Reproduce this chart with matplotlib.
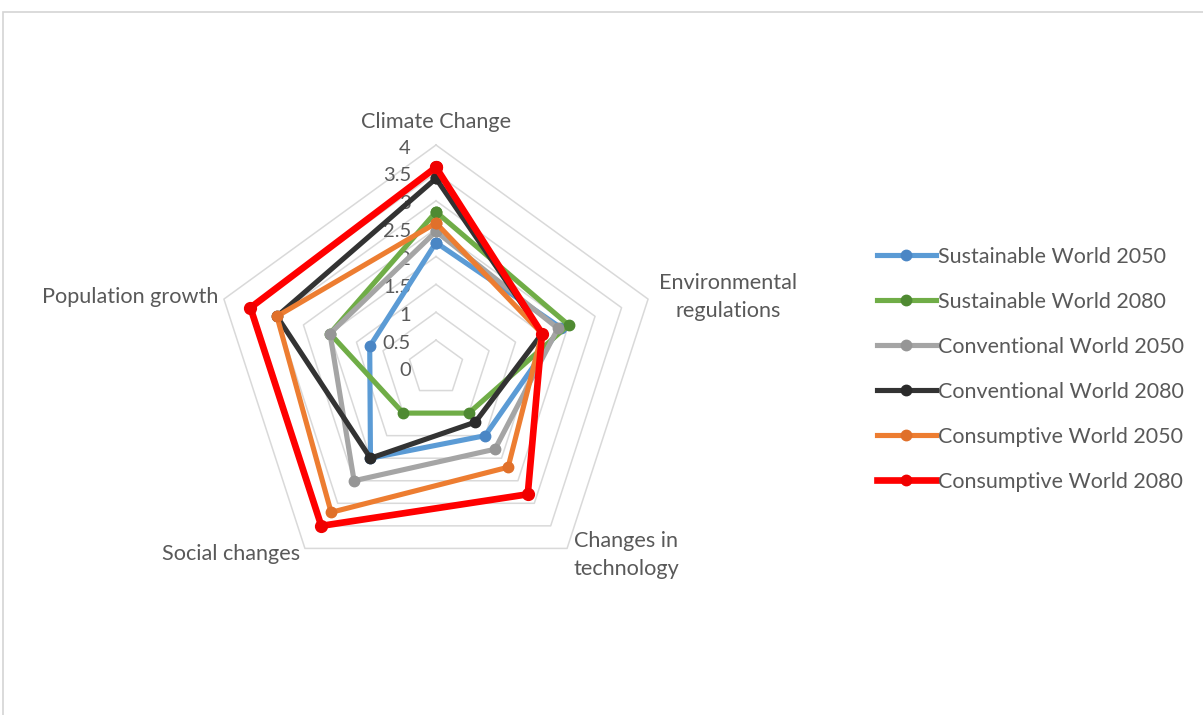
import numpy as np
import matplotlib
matplotlib.use("Agg")
import matplotlib.pyplot as plt
from matplotlib.patches import Rectangle

plt.rcParams['font.family'] = ['Lato', 'DejaVu Sans']

categories = ["Climate Change", "Environmental\nregulations", "Changes in\ntechnology",
              "Social changes", "Population growth"]

sustainable_2050 = [2.25, 2.35, 1.5, 2.0, 1.25]
sustainable_2080 = [2.8, 2.5, 1.0, 1.0, 2.0]
conventional_2050 = [2.45, 2.3, 1.8, 2.5, 2.0]
conventional_2080 = [3.4, 2.0, 1.2, 2.0, 3.0]
consumptive_2050 = [2.6, 2.0, 2.2, 3.2, 3.0]
consumptive_2080 = [3.6, 2.0, 2.8, 3.5, 3.5]

series_names = ["Sustainable World 2050", "Sustainable World 2080",
                "Conventional World 2050", "Conventional World 2080",
                "Consumptive World 2050", "Consumptive World 2080"]
series_values = [sustainable_2050, sustainable_2080, conventional_2050,
                 conventional_2080, consumptive_2050, consumptive_2080]

tick_values = [0, 0.5, 1, 1.5, 2, 2.5, 3, 3.5, 4]
tick_labels = ["0", "0.5", "1", "1.5", "2", "2.5", "3", "3.5", "4"]

line_colors = ["#5B9BD5", "#70AD47", "#A5A5A5", "#333333", "#ED7D31", "#FF0000"]
marker_colors = ["#4A86C5", "#4F8A32", "#969696", "#2A2A2A", "#E0702A", "#F00000"]
line_widths = [3.7, 3.7, 3.7, 3.7, 3.7, 4.8]
marker_sizes = [7.5, 7.5, 7.5, 7.5, 7.5, 8.5]

TEXT = "#595959"
W, H = 1203, 715
fig = plt.figure(figsize=(W / 100, H / 100), dpi=100)

# chart frame
fig.patches.append(Rectangle((3 / W, -0.02), 1.1, 1 - 12 / H + 0.02,
                             transform=fig.transFigure, facecolor="none",
                             edgecolor="#D4D4D4", linewidth=1.2, zorder=-1))

cx, cy, R = 436, 368, 223
ax = fig.add_axes([(cx - R) / W, (H - cy - R) / H, 2 * R / W, 2 * R / H],
                  projection="polar")
ax.set_theta_offset(np.pi / 2)
ax.set_theta_direction(-1)
ax.set_ylim(0, 4)
ax.grid(False)
ax.spines["polar"].set_visible(False)
ax.set_xticks([])
ax.set_yticks([])
ax.patch.set_visible(False)

n = len(categories)
angles = np.arange(n) * 2 * np.pi / n
closed = np.append(angles, angles[0])

# pentagon gridlines
for v in tick_values[1:]:
    ax.plot(closed, [v] * (n + 1), color="#D9D9D9", lw=1.1, zorder=1, clip_on=False)

# value axis labels
for v, lab in zip(tick_values, tick_labels):
    ax.annotate(lab, xy=(0, v), xytext=(-25, -3), textcoords="offset pixels",
                ha="right", va="center", fontsize=14.5, color=TEXT,
                annotation_clip=False)

# category labels
cat_offsets = [(0, 23, "center"), (80, 2, "center"), (59, -7, "center"),
               (-74, -6, "center"), (-6, 2, "right")]
for ang, lab, (dx, dy, ha) in zip(angles, categories, cat_offsets):
    ax.annotate(lab, xy=(ang, 4), xytext=(dx, dy), textcoords="offset pixels",
                ha=ha, va="center", multialignment="center", fontsize=15.6,
                color=TEXT, linespacing=1.5, annotation_clip=False)

handles = []
for name, vals, lc, mc, lw, ms in zip(series_names, series_values, line_colors,
                                       marker_colors, line_widths, marker_sizes):
    h, = ax.plot(closed, vals + vals[:1], color=lc, lw=lw, marker="o",
                 markersize=ms, markerfacecolor=mc, markeredgecolor=mc,
                 zorder=3, clip_on=False, solid_joinstyle="miter", label=name)
    handles.append(h)

leg = fig.legend(handles=handles, loc="upper left",
                 bbox_to_anchor=(868 / W, 1 - 238 / H), frameon=False,
                 fontsize=15.5, handlelength=2.75, handletextpad=0.12,
                 labelspacing=1.165, borderaxespad=0)
for t in leg.get_texts():
    t.set_color(TEXT)
for lh in leg.legend_handles:
    lh.set_markersize(7.5)

fig.savefig("out.png", dpi=100)
